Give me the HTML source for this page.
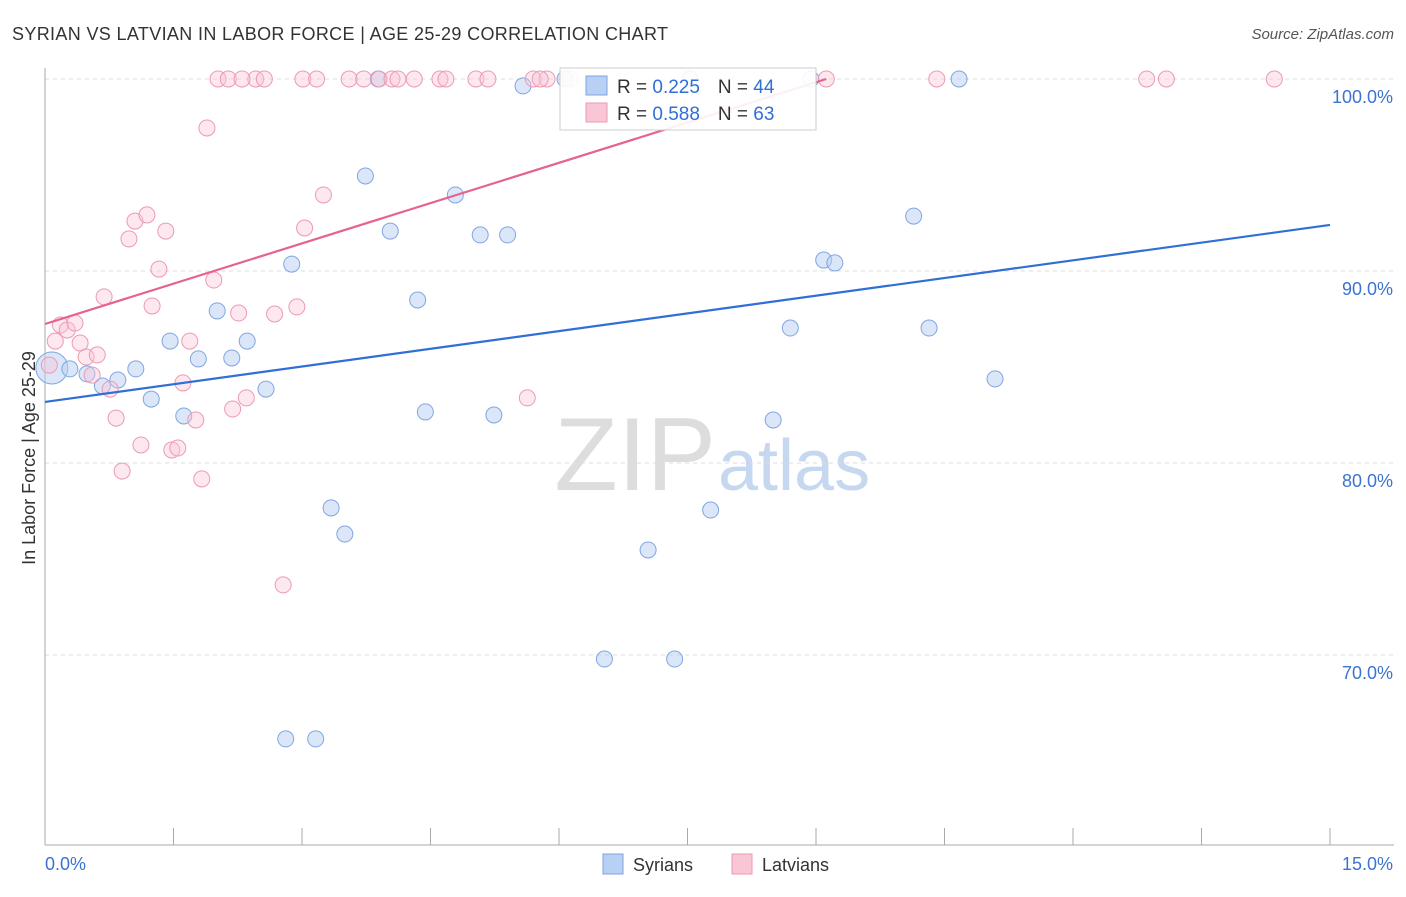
<!DOCTYPE html>
<html><head><meta charset="utf-8"><style>
body{margin:0;background:#fff;font-family:"Liberation Sans",sans-serif;}
svg text{font-family:"Liberation Sans",sans-serif;}
</style></head><body>
<svg id="chart" width="1406" height="892">
<text x="12" y="40" font-size="18" fill="#333" textLength="656">SYRIAN VS LATVIAN IN LABOR FORCE | AGE 25-29 CORRELATION CHART</text>
<text x="1394" y="39" font-size="15" fill="#555" font-style="italic" text-anchor="end">Source: ZipAtlas.com</text>
<text x="35" y="458" font-size="18" fill="#333" text-anchor="middle" transform="rotate(-90 35 458)">In Labor Force | Age 25-29</text>
<text x="716" y="490" font-size="104" fill="#ddd" text-anchor="end" font-family="Liberation Serif">ZIP</text>
<text x="718" y="490" font-size="72" fill="#c5d8f0">atlas</text>
<g id="grid"></g><g id="axes"></g><g id="pts"></g><g id="lines"></g>
<g>
<rect x="560" y="68" width="256" height="62" fill="#fff" fill-opacity="0.9" stroke="#ccc"/>
<rect x="586" y="76" width="21" height="19" fill="#b8d0f4" stroke="#7fa6e0"/>
<rect x="586" y="103" width="21" height="19" fill="#f9c6d6" stroke="#ec9ab4"/>
<text x="617" y="93" font-size="19" fill="#333">R = <tspan fill="#2f6fd6">0.225</tspan><tspan dx="18">N = </tspan><tspan fill="#2f6fd6">44</tspan></text>
<text x="617" y="120" font-size="19" fill="#333">R = <tspan fill="#2f6fd6">0.588</tspan><tspan dx="18">N = </tspan><tspan fill="#2f6fd6"> 63</tspan></text>
</g>
<g>
<rect x="603" y="854" width="20" height="20" fill="#b8d0f4" stroke="#7fa6e0"/>
<text x="633" y="871" font-size="18" fill="#333">Syrians</text>
<rect x="732" y="854" width="20" height="20" fill="#f9c6d6" stroke="#ec9ab4"/>
<text x="762" y="871" font-size="18" fill="#333">Latvians</text>
</g>
</svg>
<script>
const xTicks=[0,1.5,3,4.5,6,7.5,9,10.5,12,13.5,15];
const yTicks=[100,90,80,70];
const blueX=[0.08,0.29,0.49,0.67,0.85,1.06,1.24,1.46,1.62,1.79,2.01,2.18,2.36,2.58,2.81,2.88,3.16,3.34,3.5,3.74,3.89,4.03,4.35,4.44,4.79,5.08,5.24,5.4,5.58,6.53,7.04,7.35,7.77,8.5,8.7,8.94,9.09,9.22,10.14,10.32,10.67,11.09,6.07,7.53];
const blueY=[84.95,84.9,84.64,84.01,84.32,84.9,83.33,86.35,82.45,85.42,87.92,85.47,86.35,83.85,65.63,90.36,65.63,77.66,76.3,94.95,100,92.08,88.49,82.66,93.96,91.88,82.5,91.88,99.64,69.79,75.47,69.79,77.55,82.24,87.03,100,90.57,90.42,92.86,87.03,100,84.38,100,100];
const pinkX=[0.12,0.18,0.26,0.35,0.41,0.48,0.55,0.61,0.69,0.76,0.83,0.9,0.98,1.05,1.12,1.19,1.25,1.33,1.41,1.48,1.55,1.61,1.69,1.76,1.83,1.89,1.97,2.02,2.14,2.19,2.26,2.35,2.46,2.56,2.68,2.78,2.94,3.01,3.03,3.17,3.25,3.55,3.72,3.9,4.05,4.12,4.31,4.61,4.68,5.03,5.17,5.63,5.7,5.86,6.13,9.12,10.41,12.86,13.09,14.35,5.78,0.05,2.3];
const pinkY=[86.35,87.19,86.93,87.29,86.25,85.52,84.58,85.63,88.65,83.85,82.34,79.58,91.67,92.6,80.94,92.92,88.18,90.1,92.08,80.68,80.78,84.17,86.35,82.24,79.17,97.45,89.53,100,100,82.81,87.81,83.39,100,100,87.76,73.65,88.13,100,92.24,100,93.96,100,100,100,100,100,100,100,100,100,100,83.39,100,100,100,100,100,100,100,100,100,85.1,100];
const blueFit=[83.18,92.4];
const pinkFit=[87.24,100,9.12];
const X=v=>45+(v/15)*1285, Y=v=>79+(100-v)*19.2;
const NS="http://www.w3.org/2000/svg";
function mk(tag,attrs,parent){const e=document.createElementNS(NS,tag);for(const k in attrs)e.setAttribute(k,attrs[k]);document.getElementById(parent).appendChild(e);return e;}
yTicks.forEach(t=>{
 const l=mk('line',{x1:45,x2:1394,y1:Y(t),y2:Y(t),stroke:'#ddd','stroke-dasharray':'4 4'},'grid');
 
 
 const tx=mk('text',{x:1393,y:Y(t)+24,'font-size':18,fill:'#3b73d1','text-anchor':'end'},'grid');
 tx.textContent=t.toFixed(1)+'%';
 
 
});
const ax=mk('line',{x1:45,x2:1394,y1:845,y2:845,stroke:'#aaa'},'axes');


const ay=mk('line',{x1:45,x2:45,y1:68,y2:845,stroke:'#aaa'},'axes');


xTicks.forEach((t,i)=>{
 const l=mk('line',{x1:X(t),x2:X(t),y1:828,y2:845,stroke:'#aaa'},'axes');
 
 
});
[[0,'start','0.0%'],[15,'end','15.0%']].forEach(a=>{
 const tx=mk('text',{x:a[0]==0?45:1393,y:870,'font-size':18,fill:'#3b73d1','text-anchor':a[1]},'axes');
 tx.textContent=a[2];
 
 
});
blueX.forEach((v,i)=>{
 const c=mk('circle',{cx:X(v),cy:Y(blueY[i]),r:i==0?16:8,fill:'#b8d0f4','fill-opacity':0.5,stroke:'#7fa6e0','stroke-width':1},'pts');
 
 
});
pinkX.forEach((v,i)=>{
 const c=mk('circle',{cx:X(v),cy:Y(pinkY[i]),r:8,fill:'#f9c6d6','fill-opacity':0.4,stroke:'#ec9ab4','stroke-width':1},'pts');
 
 
});
const bl=mk('line',{x1:X(0),y1:Y(blueFit[0]),x2:X(15),y2:Y(blueFit[1]),stroke:'#2f6fd6','stroke-width':2.2},'lines');


const pl=mk('line',{x1:X(0),y1:Y(pinkFit[0]),x2:X(pinkFit[2]),y2:Y(pinkFit[1]),stroke:'#e5638e','stroke-width':2.2},'lines');


</script>
</body></html>
